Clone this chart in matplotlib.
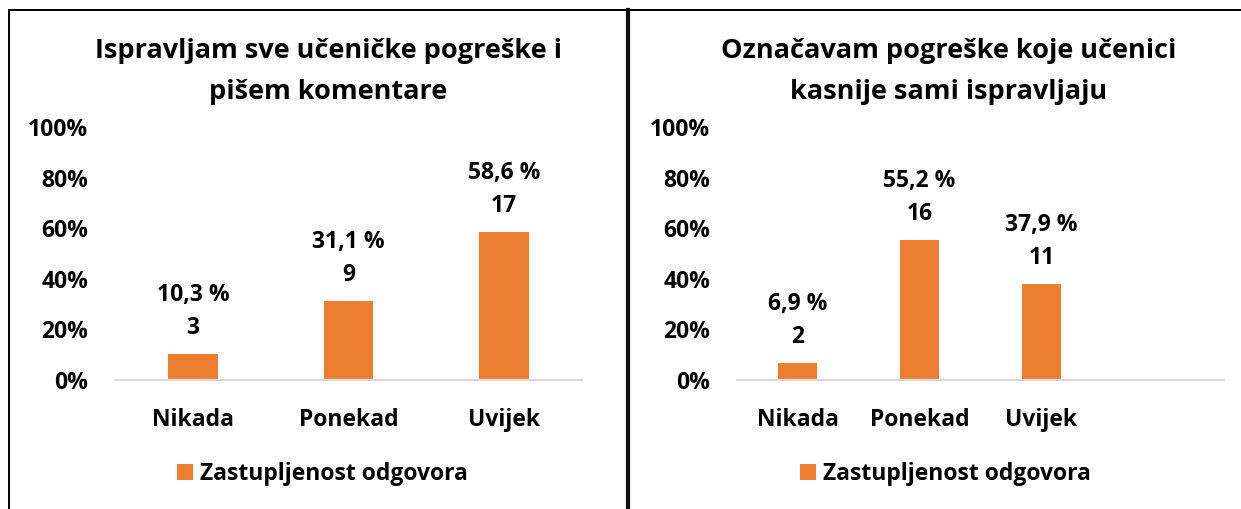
import matplotlib
matplotlib.use("Agg")
import matplotlib.pyplot as plt
from matplotlib.lines import Line2D

plt.rcParams['font.family'] = ['Open Sans', 'DejaVu Sans']
plt.rcParams['font.weight'] = 'bold'

# data
categories = ['Nikada', 'Ponekad', 'Uvijek']
left_title = 'Ispravljam sve učeničke pogreške i\npišem komentare'
left_pct = [10.3, 31.1, 58.6]
left_counts = [3, 9, 17]
right_title = 'Označavam pogreške koje učenici\nkasnije sami ispravljaju'
right_pct = [6.9, 55.2, 37.9]
right_counts = [2, 16, 11]
yticks = [0, 0.2, 0.4, 0.6, 0.8, 1.0]
legend_label = 'Zastupljenost odgovora'

ORANGE = '#ED7D31'
W, H = 1241, 509
fig = plt.figure(figsize=(W / 100, H / 100), dpi=100)
PT = 72 / 100  # points per pixel
FS = 16.5


def px(x0, y0, x1, y1):
    # pixel box (top-left origin) -> figure fraction rect
    return [x0 / W, 1 - y1 / H, (x1 - x0) / W, (y1 - y0) / H]


def panel(rect, xmax, pct, counts, title, title_x, legend_x):
    ax = fig.add_axes(rect)
    x = range(len(categories))
    vals = [p / 100 for p in pct]
    bars = ax.bar(x, vals, width=0.32, color=ORANGE, label=legend_label, zorder=2)
    ax.set_xlim(-0.5, xmax)
    ax.set_ylim(0, 1)
    ax.set_yticks(yticks)
    ax.set_yticklabels([f'{int(round(t * 100))}%' for t in yticks], fontsize=FS)
    ax.set_xticks(list(x))
    ax.set_xticklabels(categories, fontsize=FS)
    ax.tick_params(length=0, pad=27 * PT)
    ax.tick_params(axis='x', pad=28 * PT)
    for s in ['top', 'right', 'left']:
        ax.spines[s].set_visible(False)
    ax.spines['bottom'].set_color('#d9d9d9')
    ax.spines['bottom'].set_linewidth(1.6)
    for xi, v, p, c in zip(x, vals, pct, counts):
        ax.annotate(str(c), (xi, v), xytext=(0, 26 * PT), textcoords='offset points',
                    ha='center', va='center', fontsize=FS)
        ax.annotate(f'{p:.1f} %'.replace('.', ','), (xi, v), xytext=(0, 59 * PT),
                    textcoords='offset points', ha='center', va='center', fontsize=FS)
    # two title lines placed separately to match the line gap
    line1, line2 = title.split('\n')
    fig.text(title_x / W, 1 - 51 / H, line1, ha='center', va='center', fontsize=19.5)
    fig.text(title_x / W, 1 - 92 / H, line2, ha='center', va='center', fontsize=19.5)
    ax.legend(handles=[bars], loc='center', bbox_to_anchor=(legend_x / W, 1 - 474 / H),
              bbox_transform=fig.transFigure, frameon=False, fontsize=FS,
              handlelength=0.7, handleheight=0.7, handletextpad=0.3)
    return ax


panel(px(115, 127, 582, 380), 2.5, left_pct, left_counts, left_title, 328, 322)
panel(px(737, 127, 1224, 380), 3.5, right_pct, right_counts, right_title, 949, 945)

# frame lines
fig.add_artist(Line2D([9 / W, 1], [1 - 10 / H, 1 - 10 / H], color='black', lw=1.4))
fig.add_artist(Line2D([9 / W, 9 / W], [0, 1 - 10 / H], color='black', lw=1.4))
fig.add_artist(Line2D([628 / W, 628 / W], [0, 1 - 10 / H], color='#111111', lw=3.0))

fig.savefig('out.png', dpi=100)
